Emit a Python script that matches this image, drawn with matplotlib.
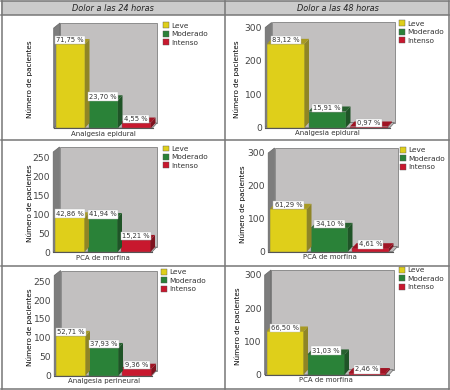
import matplotlib
matplotlib.use("Agg")
import matplotlib.pyplot as plt
from matplotlib.patches import Rectangle
from matplotlib.lines import Line2D

W, H = 450, 390

headers = ["Dolor a las 24 horas", "Dolor a las 48 horas"]
severity = ["Leve", "Moderado", "Intenso"]
colors = ["#dfcf1a", "#2a8238", "#c8182e"]
side_colors = ["#8f8526", "#1f5427", "#7e1420"]
top_colors = ["#a89a22", "#27612f", "#a01424"]

groups = ["Analgesia epidural", "Analgesia epidural",
          "PCA de morfina", "PCA de morfina",
          "Analgesia perineural", "PCA de morfina"]
counts = [[215, 71, 14], [251, 48, 3],
          [92, 90, 32], [130, 72, 10],
          [105, 73, 18], [130, 61, 5]]
percents = [["71,75 %", "23,70 %", "4,55 %"], ["83,12 %", "15,91 %", "0,97 %"],
            ["42,86 %", "41,94 %", "15,21 %"], ["61,29 %", "34,10 %", "4,61 %"],
            ["52,71 %", "37,93 %", "9,36 %"], ["66,50 %", "31,03 %", "2,46 %"]]
ymax = [256, 300, 265, 300, 265, 300]
ticks = [[], [0, 100, 200, 300],
         [0, 50, 100, 150, 200, 250], [0, 100, 200, 300],
         [0, 50, 100, 150, 200, 250], [0, 100, 200, 300]]

# panel layout in pixels: left, right, top, baseline, bar width, bar step, legend x, legend y, ylabel x
layout = [(55.5, 152.5, 28, 128, 29.5, 33, 163, 22.5, 30),
          (267, 390, 27.5, 127.5, 37.5, 41.5, 399, 20.5, 237),
          (55, 152, 152, 252, 29.5, 33, 163, 145.5, 30),
          (270, 393, 153, 251.5, 37, 41, 400, 147, 243),
          (56, 152, 275.5, 375.5, 29.5, 33, 161, 269, 30),
          (266.5, 389, 275, 374.7, 37, 41, 399, 267, 238)]
depth_x, depth_y = 4.5, 5

fig = plt.figure(figsize=(W / 100, H / 100), dpi=100)
plt.rcParams["font.family"] = "DejaVu Sans"


def rect_px(x0, x1, y_top, y_bottom):
    return [x0 / W, 1 - y_bottom / H, (x1 - x0) / W, (y_bottom - y_top) / H]


# table frame
bg = fig.add_axes([0, 0, 1, 1], zorder=0)
bg.set_xlim(0, W)
bg.set_ylim(H, 0)
bg.axis("off")
bg.add_patch(Rectangle((1, 1), 448, 13.5, fc="#cbcbcb", ec="none"))
for y in [1, 14.5, 139.5, 265.5, 388.5]:
    bg.add_line(Line2D([1, 449], [y, y], color="#777777", lw=1.1))
for x in [1.5, 225, 448.5]:
    bg.add_line(Line2D([x, x], [1, 388.5], color="#777777", lw=1.1))
for x, head in zip([113, 338], headers):
    bg.text(x, 8.5, head, ha="center", va="center", style="italic",
            fontsize=5.9, color="#222222")

for i in range(6):
    left, right, top, base, bar_w, step, leg_x, leg_y, lab_x = layout[i]
    ax = fig.add_axes(rect_px(left, right, top, base), zorder=1)
    ax.set_xlim(-bar_w / 2 / step, (right - left - bar_w / 2) / step)
    ax.set_ylim(0, ymax[i])
    ax.patch.set_alpha(0)
    for s in ax.spines.values():
        s.set_visible(False)
    dx = depth_x / step
    dy = depth_y * ymax[i] / (base - top)
    w = bar_w / step
    x0, x1 = ax.get_xlim()
    y1 = ymax[i]

    # walls and floor
    ax.fill([x0 + dx, x1 + dx, x1 + dx, x0 + dx], [dy, dy, y1 + dy, y1 + dy],
            fc="#c2c0c0", ec="#808080", lw=0.6, clip_on=False, zorder=1)
    ax.fill([x0 - dx * 0.4, x0 + dx, x0 + dx, x0 - dx * 0.4], [0, dy, y1 + dy, y1],
            fc="#7d7d7d", ec="#666666", lw=0.5, clip_on=False, zorder=1)
    ax.fill([x0 - dx * 0.4, x1, x1 + dx, x0 + dx], [0, 0, dy, dy],
            fc="#bcbaba", ec="#666666", lw=0.5, clip_on=False, zorder=1)
    ax.plot([x0 - dx * 0.4, x1], [0, 0], color="#555555", lw=0.8, clip_on=False, zorder=2)

    bars = ax.bar(range(3), counts[i], width=w, color=colors, edgecolor="#666666",
                  linewidth=0.3, zorder=3)
    for j, bar in enumerate(bars):
        v = counts[i][j]
        r = j + w / 2
        ax.fill([r, r + dx, r + dx, r], [0, dy, v + dy, v], fc=side_colors[j],
                ec="none", clip_on=False, zorder=3)
        ax.fill([j - w / 2, r, r + dx, j - w / 2 + dx], [v, v, v + dy, v + dy],
                fc=top_colors[j], ec="none", clip_on=False, zorder=3)
        ax.text(j, v + dy * 0.75, percents[i][j], ha="center", va="center",
                fontsize=4.9, color="#333333", zorder=5, clip_on=False,
                bbox=dict(boxstyle="square,pad=0.18", fc="white", ec="#b8b8b8", lw=0.3))

    ax.set_xticks([1])
    ax.set_xticklabels([groups[i]], fontsize=5, color="#333333")
    ax.tick_params(axis="x", length=0, pad=2)
    ax.set_yticks(ticks[i])
    ax.tick_params(axis="y", length=0, pad=3.5, labelsize=6.6, labelcolor="#444444")
    fig.text(lab_x / W, 1 - ((top + base) / 2 + 1.5) / H, "Número de pacientes", rotation=90,
             ha="center", va="center", fontsize=5.2, color="#000000", fontweight="medium")

    handles = [Rectangle((0, 0), 1, 1, fc=c, ec="#555555", lw=0.3) for c in colors]
    ax.legend(handles, severity, loc="upper left",
              bbox_to_anchor=(leg_x / W, 1 - leg_y / H), bbox_transform=fig.transFigure,
              frameon=False, fontsize=5.3, handlelength=0.75, handleheight=0.8,
              handletextpad=0.35, labelspacing=0.28, borderpad=0, borderaxespad=0,
              labelcolor="#333333")

fig.savefig("out.png", dpi=100)
